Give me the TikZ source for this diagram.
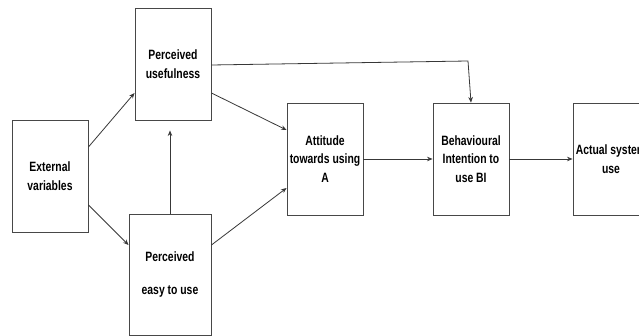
\documentclass[tikz,border=0pt]{standalone}
\usepackage{fontspec}
\setmainfont{Liberation Sans}[FakeStretch=0.77]
\usetikzlibrary{arrows.meta}
\begin{document}
\begin{tikzpicture}[x=1pt,y=-1pt,
  box/.style={draw=black!72, line width=0.9pt, fill=white, minimum width=76pt, minimum height=112pt,
    inner sep=0pt, align=center, font=\bfseries\fontsize{13.5}{18.5}\selectfont},
  conn/.style={draw=black!78, line width=0.8pt, -{Stealth[length=5.5pt,width=4.5pt]}}]
\clip (0,0) rectangle (639,336);
\fill[white] (0,0) rectangle (639,336);
\node[box] (ev) at (50,176) {External\\variables};
\node[box] (pu) at (173,64) {Perceived\\usefulness};
\node[box, minimum width=82pt, minimum height=121pt] (peu) at (170,274.5) {Perceived\\[14.5pt]easy to use};
\node[box] (att) at (325,159) {Attitude\\towards using\\A};
\node[box] (bi) at (471,159) {Behavioural\\Intention to\\use BI};
\node[box] (asu) at (611,159) {Actual system\\use};
\coordinate (bend) at (468,61);
\draw[conn] ([yshift=29pt]ev.east) -- ([yshift=-29pt]pu.west);
\draw[conn] ([yshift=-29pt]ev.east) -- ([yshift=29.5pt]peu.west);
\draw[conn, shorten >=10pt] (peu.north) -- (peu.north |- pu.south);
\draw[conn] ([yshift=-29pt]pu.east) -- ([yshift=29pt]att.west);
\draw[conn] ([yshift=29.5pt]peu.east) -- ([yshift=-29pt]att.west);
\draw[conn] ([yshift=-1pt]pu.east) -- (bend) -- (bi.north);
\draw[conn] (att.east) -- (bi.west);
\draw[conn] (bi.east) -- (asu.west);
\end{tikzpicture}
\end{document}
